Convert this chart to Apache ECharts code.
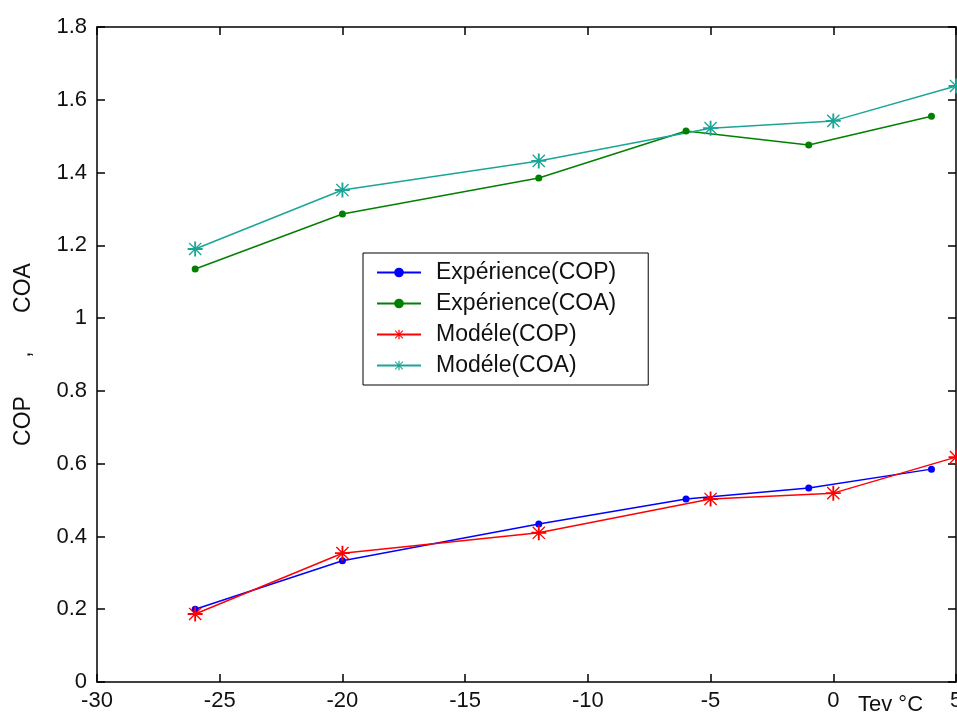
<!DOCTYPE html>
<html>
<head>
<meta charset="utf-8">
<script src="https://cdn.jsdelivr.net/npm/echarts@6/dist/echarts.min.js"></script>
<style>
  html, body { margin: 0; padding: 0; background: #fff; }
  #chart { width: 957px; height: 715px; }
</style>
</head>
<body>
<div id="chart"></div>
<script>
// data
const expX = [-26, -20, -12, -6, -1, 4]
const modX = [-26, -20, -12, -5, 0, 5]
const expCOP = [0.20, 0.333, 0.434, 0.503, 0.533, 0.585]
const expCOA = [1.135, 1.286, 1.385, 1.514, 1.476, 1.555]
const modCOP = [0.187, 0.354, 0.41, 0.503, 0.519, 0.618]
const modCOA = [1.19, 1.352, 1.432, 1.522, 1.542, 1.638]
const names = ['Expérience(COP)', 'Expérience(COA)', 'Modéle(COP)', 'Modéle(COA)']

const font = 'Liberation Sans, Arial, sans-serif'
const star = 'path://M-1,-8 L1,-8 L1,8 L-1,8 Z M-8,-1 L8,-1 L8,1 L-8,1 Z ' +
  'M-6,-7 L7,6 L6,7 L-7,-6 Z M6,-7 L7,-6 L-6,7 L-7,6 Z M-2,-2 L2,-2 L2,2 L-2,2 Z'

const pairs = (xs, ys) => xs.map((x, i) => [x, ys[i]])

const chart = echarts.init(document.getElementById('chart'))

const axisBase = {
  axisLine: { show: true, onZero: false, lineStyle: { color: '#000', width: 1.5 } },
  axisTick: { show: true, inside: true, length: 8, lineStyle: { color: '#000', width: 1.5 } },
  splitLine: { show: false }
}

function lineSeries(name, data, color, symbol, size) {
  return {
    name: name,
    type: 'line',
    data: data,
    symbol: symbol,
    symbolSize: size,
    showAllSymbol: true,
    clip: false,
    lineStyle: { color: color, width: 1.5 },
    itemStyle: { color: color },
    emphasis: { disabled: true }
  }
}

chart.setOption({
  animation: false,
  backgroundColor: '#fff',
  grid: { left: 97, right: 1, top: 27, bottom: 33, outerBoundsMode: 'none' },
  legend: {
    orient: 'vertical',
    left: 363,
    top: 253,
    data: names,
    backgroundColor: '#fff',
    borderColor: '#000',
    borderWidth: 1,
    padding: [8, 32, 8, 13],
    itemWidth: 44,
    itemHeight: 12,
    itemGap: 8,
    textStyle: { fontFamily: font, fontSize: 23, color: '#111', padding: [0, 0, 0, 10] }
  },
  xAxis: [
    Object.assign({}, axisBase, {
      type: 'value', min: -30, max: 5, interval: 5,
      axisLabel: { color: '#111', fontFamily: font, fontSize: 22, margin: 8 }
    }),
    Object.assign({}, axisBase, {
      type: 'value', position: 'top', min: -30, max: 5, interval: 5,
      axisLabel: { show: false }
    })
  ],
  yAxis: [
    Object.assign({}, axisBase, {
      type: 'value', min: 0, max: 1.8, interval: 0.2,
      name: 'COP      ,      COA',
      nameLocation: 'middle',
      nameGap: 62,
      nameTextStyle: { color: '#111', fontFamily: font, fontSize: 23 },
      axisLabel: { color: '#111', fontFamily: font, fontSize: 22, margin: 10 }
    }),
    Object.assign({}, axisBase, {
      type: 'value', position: 'right', min: 0, max: 1.8, interval: 0.2,
      axisLabel: { show: false }
    })
  ],
  graphic: [
    {
      type: 'text', left: 858, top: 694,
      style: { text: 'Tev °C', fontFamily: font, fontSize: 22, fill: '#111' }
    }
  ],
  series: [
    lineSeries(names[0], pairs(expX, expCOP), '#0000ff', 'circle', 7),
    lineSeries(names[1], pairs(expX, expCOA), '#008000', 'circle', 7),
    lineSeries(names[2], pairs(modX, modCOP), '#ff0000', star, 15),
    lineSeries(names[3], pairs(modX, modCOA), '#1aa596', star, 15)
  ]
})
</script>
</body>
</html>
